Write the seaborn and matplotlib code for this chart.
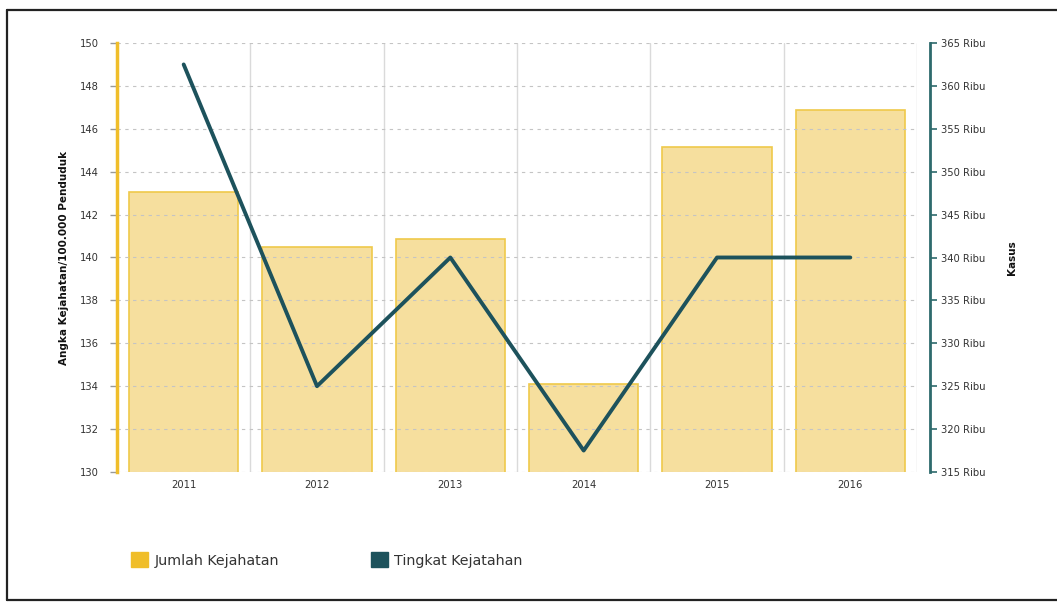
import matplotlib
matplotlib.use("Agg")
import matplotlib.pyplot as plt
import seaborn as sns
import numpy as np
import pandas as pd
from matplotlib.patches import Patch
from matplotlib.lines import Line2D
from matplotlib.ticker import MultipleLocator, FuncFormatter

# ---- data ----
years = ["2011", "2012", "2013", "2014", "2015", "2016"]
jumlah_kejahatan_ribu = [347.6, 341.2, 342.1, 325.3, 352.9, 357.2]   # bars, right axis (Kasus)
tingkat_kejahatan = [149, 134, 140, 131, 140, 140]                    # line, left axis
left_ticks = [130, 132, 134, 136, 138, 140, 142, 144, 146, 148, 150]
right_ticks = [315, 320, 325, 330, 335, 340, 345, 350, 355, 360, 365]
legend_labels = ["Jumlah Kejahatan", "Tingkat Kejatahan"]

sns.set_theme(style="white")
plt.rcParams['font.family'] = ['DejaVu Sans']

BAR_FILL = "#F6DF9E"
BAR_EDGE = "#EFC94A"
GOLD = "#F0BE2A"
TEAL = "#1D525C"
RAXIS = "#2E6A6C"
TXT = "#333333"

fig = plt.figure(figsize=(10.57, 6.05), dpi=100)
ax = fig.add_axes([117/1057, 1 - 472/605, 800/1057, (472 - 43)/605])
ax2 = ax.twinx()

df = pd.DataFrame({"year": years, "jumlah": jumlah_kejahatan_ribu,
                   "pos": np.arange(len(years)), "rate": tingkat_kejahatan})

# bars on right axis
sns.barplot(data=df, x="year", y="jumlah", ax=ax2, color=BAR_FILL, saturation=1,
            width=0.82, edgecolor=BAR_EDGE, linewidth=1.2)
ax2.set_ylim(315, 365)
ax2.set_yticks(right_ticks)
ax2.yaxis.set_major_formatter(FuncFormatter(lambda v, p: f"{int(round(v))} Ribu"))
ax2.set_ylabel("Kasus", fontsize=7.5, fontweight="bold", color="#111111", labelpad=16)
ax2.set_xlabel("")

# line on left axis
sns.lineplot(data=df, x="pos", y="rate", ax=ax, color=TEAL, linewidth=2.8, sort=False)
ax.set_ylim(130, 150)
ax.set_yticks(left_ticks)
ax.set_xlim(-0.5, len(years) - 0.5)
ax.set_xticks(np.arange(len(years)))
ax.set_xticklabels(years)
ax.set_xlabel("")
ax.set_ylabel("Angka Kejahatan/100.000 Penduduk", fontsize=7.5, fontweight="bold",
              color="#111111", labelpad=8)

ax.set_zorder(ax2.get_zorder() + 1)
ax.patch.set_visible(False)

# grids
ax.yaxis.grid(True, linestyle=(0, (3, 4)), color="#C4C4C4", linewidth=0.8)
ax.xaxis.set_minor_locator(MultipleLocator(1, offset=0.5))
ax.xaxis.grid(True, which="minor", color="#DADADA", linewidth=1)
ax.xaxis.grid(False, which="major")
ax2.grid(False)

# spines
for s in ["top", "bottom", "right"]:
    ax.spines[s].set_visible(False)
for s in ["top", "bottom", "left"]:
    ax2.spines[s].set_visible(False)
ax.spines["left"].set_color(GOLD)
ax.spines["left"].set_linewidth(2.5)
ax2.spines["right"].set_position(("outward", 9))
ax2.spines["right"].set_color(RAXIS)
ax2.spines["right"].set_linewidth(2)

ax.tick_params(axis="y", which="major", left=True, length=5, width=1, color="#999999",
               labelsize=7.2, labelcolor=TXT, pad=8)
ax.tick_params(axis="x", which="both", bottom=False, labelsize=7.2, labelcolor=TXT, pad=0)
ax2.tick_params(axis="y", right=True, length=5, width=1.2, color=RAXIS,
                labelsize=7.2, labelcolor=TXT, pad=3)
ax2.tick_params(axis="x", bottom=False)

# legend
handles = [Patch(facecolor=GOLD, edgecolor=GOLD), Patch(facecolor=TEAL, edgecolor=TEAL)]
fig.legend(handles, legend_labels, loc="center left", bbox_to_anchor=(118/1057, 1 - 560/605),
           ncol=2, frameon=False, fontsize=10.3, handlelength=1.2, handleheight=1.2,
           handletextpad=0.45, columnspacing=6.4, labelcolor=TXT)

# outer frame
fx0, fy_top, fy_bot = 7/1057, 1 - 10/605, 1 - 600/605
for xs, ys in [([fx0, 1.0], [fy_top, fy_top]), ([fx0, fx0], [fy_bot, fy_top]),
               ([fx0, 1.0], [fy_bot, fy_bot])]:
    fig.add_artist(Line2D(xs, ys, transform=fig.transFigure, color="#222222", linewidth=1.6))

fig.savefig("out.png", dpi=100)
